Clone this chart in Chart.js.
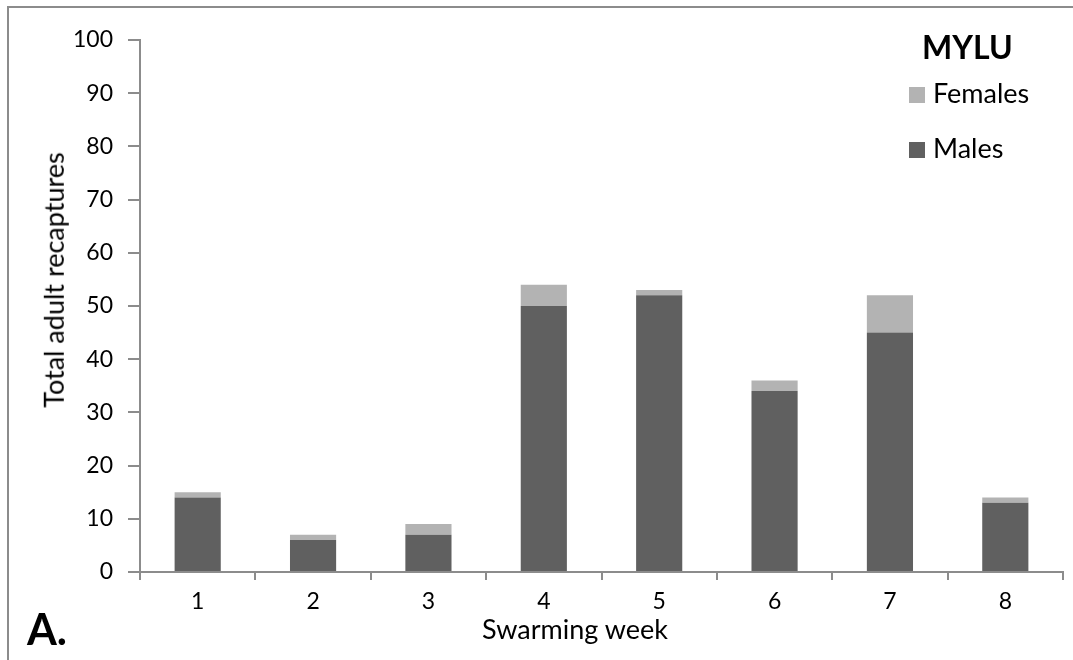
<!DOCTYPE html>
<html lang="en">
<head>
    <meta charset="UTF-8">
    <title>MYLU recaptures</title>
    <script src="https://cdn.jsdelivr.net/npm/chart.js"></script>
    <style>
        html, body {
            margin: 0;
            padding: 0;
            background: #fff;
            font-family: Lato, "Open Sans", Arial, sans-serif;
        }
        .wrap {
            position: relative;
            width: 1073px;
            height: 660px;
            overflow: hidden;
        }
        .frame {
            position: absolute;
            left: 7px;
            top: 6px;
            width: 1080px;
            height: 700px;
            border-left: 2px solid #8c8c8c;
            border-top: 2px solid #8c8c8c;
            box-sizing: border-box;
        }
        canvas { position: absolute; left: 0; top: 0; }
        .txt {
            position: absolute;
            color: #000;
            white-space: nowrap;
            line-height: 1.2;
        }
        .axis-title {
            font-size: 27px;
            transform: translate(-50%, -50%);
        }
        .ytitle { transform: translate(-50%, -50%) rotate(-90deg); }
        .legend-title {
            left: 922px;
            top: 28px;
            font-size: 32px;
            font-weight: bold;
        }
        .legend-item {
            font-size: 27px;
            left: 933px;
        }
        .box {
            position: absolute;
            left: 909px;
            width: 16px;
            height: 16px;
        }
        .panel {
            left: 27px;
            top: 603px;
            font-size: 43px;
            font-weight: bold;
        }
    </style>
</head>
<body>
<div class="wrap">
    <div class="frame"></div>
    <canvas id="chart" width="1073" height="660"></canvas>
    <div class="txt axis-title ytitle" style="left:54px; top:280px;">Total adult recaptures</div>
    <div class="txt axis-title" style="left:575px; top:629px;">Swarming week</div>
    <div class="txt legend-title">MYLU</div>
    <div id="legend"></div>
    <div class="txt panel">A.</div>
</div>
<script>
    const weeks = ['1', '2', '3', '4', '5', '6', '7', '8'];
    const males = [14, 6, 7, 50, 52, 34, 45, 13];
    const females = [1, 1, 2, 4, 1, 2, 7, 1];
    const maleColor = '#606060';
    const femaleColor = '#b3b3b3';
    const axisColor = '#8c8c8c';
    const font = { family: 'Lato, "Open Sans", Arial, sans-serif', size: 23 };

    const chart = new Chart(document.getElementById('chart').getContext('2d'), {
        type: 'bar',
        data: {
            labels: weeks,
            datasets: [
                { label: 'Males', data: males, backgroundColor: maleColor, categoryPercentage: 1, barPercentage: 0.4 },
                { label: 'Females', data: females, backgroundColor: femaleColor, categoryPercentage: 1, barPercentage: 0.4 }
            ]
        },
        options: {
            responsive: false,
            animation: false,
            layout: { padding: { left: 30, top: 40, right: 10, bottom: 0 } },
            plugins: { legend: { display: false }, tooltip: { enabled: false } },
            scales: {
                x: {
                    stacked: true,
                    border: { color: axisColor, width: 2 },
                    grid: { drawOnChartArea: false, color: axisColor, lineWidth: 2, tickLength: 8, offset: true },
                    ticks: { color: '#000', font: font, padding: 8 },
                    afterFit: s => { s.height = 88; }
                },
                y: {
                    stacked: true,
                    min: 0,
                    max: 100,
                    border: { color: axisColor, width: 2 },
                    grid: { drawOnChartArea: false, color: axisColor, lineWidth: 2, tickLength: 12 },
                    ticks: { stepSize: 10, color: '#000', font: font, padding: 15 },
                    afterFit: s => { s.width = 110; }
                }
            }
        }
    });

    // legend inside the plot, females listed first (as in the original)
    const legend = document.getElementById('legend');
    const rows = [
        { ds: chart.data.datasets[1], boxTop: 87, textTop: 77 },
        { ds: chart.data.datasets[0], boxTop: 142, textTop: 132 }
    ];
    rows.forEach(r => {
        const box = document.createElement('div');
        box.className = 'box';
        box.style.top = r.boxTop + 'px';
        box.style.background = r.ds.backgroundColor;
        legend.appendChild(box);
        const label = document.createElement('div');
        label.className = 'txt legend-item';
        label.style.top = r.textTop + 'px';
        label.textContent = r.ds.label;
        legend.appendChild(label);
    });
</script>
</body>
</html>
